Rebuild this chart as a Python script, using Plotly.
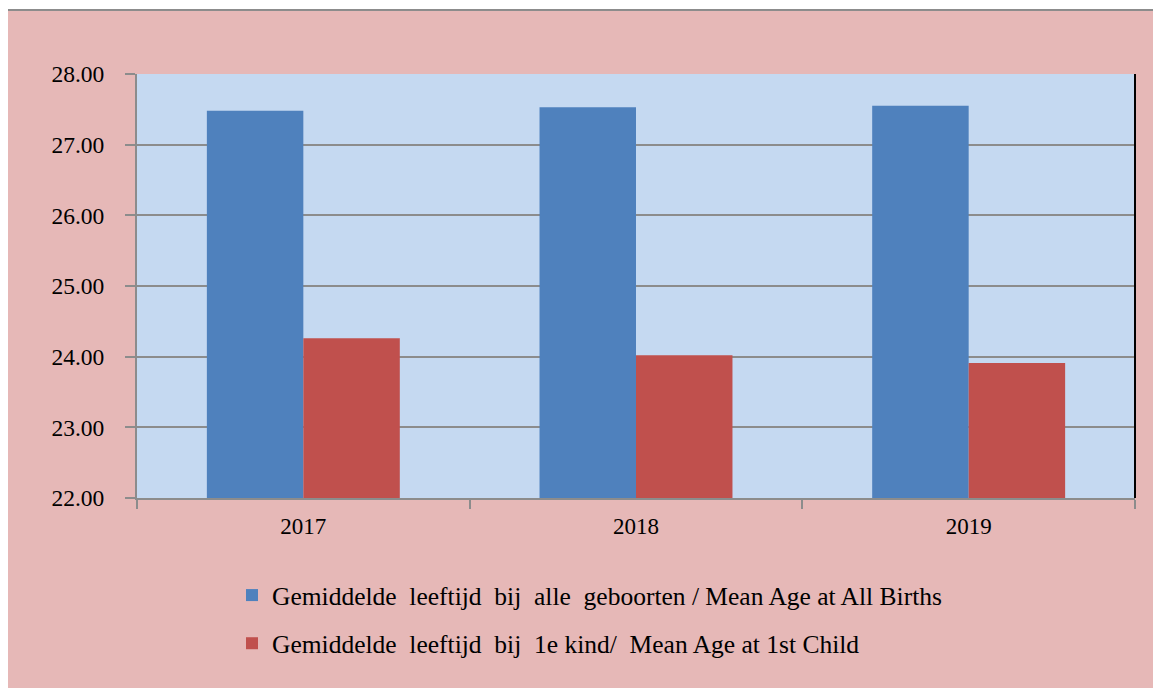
import plotly.graph_objects as go

years = ["2017", "2018", "2019"]
all_births = [27.48, 27.53, 27.55]
first_child = [24.26, 24.02, 23.91]
names = [
    "Gemiddelde  leeftijd  bij  alle  geboorten / Mean Age at All Births",
    "Gemiddelde  leeftijd  bij  1e kind/  Mean Age at 1st Child",
]

blue = "#4F81BD"
red = "#C0504D"
pink = "#E6B8B7"
light_blue = "#C5D9F1"
grey = "#8C8C8C"
serif = "Liberation Serif, Times New Roman, serif"

fig = go.Figure()
fig.add_trace(go.Bar(x=years, y=all_births, name=names[0], marker_color=blue,
                     marker_line_width=0, legendgroup="a"))
fig.add_trace(go.Bar(x=years, y=first_child, name=names[1], marker_color=red,
                     marker_line_width=0, legendgroup="b"))

# the page body has an 8px margin, so work in figure pixels = page - 8
OFF = 8
FW, FH = 1161 - OFF, 688 - OFF
L, R, T, B = 137 - OFF, 1135 - OFF, 74 - OFF, 498 - OFF
W, H = R - L, B - T


def px(x):
    return (x - OFF - L) / W


def py(y):
    return (B - (y - OFF)) / H


shapes = [
    # pink chart area with grey top/left border
    dict(type="rect", xref="paper", yref="paper", x0=px(7), x1=px(1175),
         y0=py(700), y1=py(10), fillcolor=pink,
         line=dict(color=grey, width=2), layer="below"),
    dict(type="rect", xref="paper", yref="paper", x0=0, x1=1, y0=0, y1=1,
         fillcolor=light_blue, line_width=0, layer="below"),
    # dark right border of the plot area
    dict(type="line", xref="paper", yref="paper", x0=1, x1=1, y0=0, y1=1,
         line=dict(color="black", width=2)),
]

fig.update_layout(
    width=FW, height=FH,
    margin=dict(l=L, r=FW - R, t=T, b=FH - B),
    paper_bgcolor="white",
    plot_bgcolor=light_blue,
    barmode="group",
    bargap=0.42,
    bargroupgap=0,
    shapes=shapes,
    font=dict(family=serif, color="black"),
    legend=dict(
        x=px(232), xanchor="left", y=py(572), yanchor="top",
        orientation="v", tracegroupgap=12,
        font=dict(family=serif, size=25.5, color="black"),
        bgcolor="rgba(0,0,0,0)",
    ),
    showlegend=True,
)
fig.update_xaxes(
    type="category", showline=True, linecolor=grey, linewidth=2,
    ticks="outside", tickson="boundaries", ticklen=9, tickwidth=2,
    tickcolor=grey, tickfont=dict(family=serif, size=23, color="black"),
    ticklabelstandoff=6, showgrid=False,
)
fig.update_yaxes(
    range=[22, 28], dtick=1, tickformat=".2f",
    showline=True, linecolor=grey, linewidth=2,
    ticks="outside", ticklen=10, tickwidth=2, tickcolor=grey,
    showgrid=True, gridcolor=grey, gridwidth=1.5,
    tickfont=dict(family=serif, size=23.5, color="black"),
    ticklabelstandoff=16, zeroline=False,
)

fig.write_html("out.html")
